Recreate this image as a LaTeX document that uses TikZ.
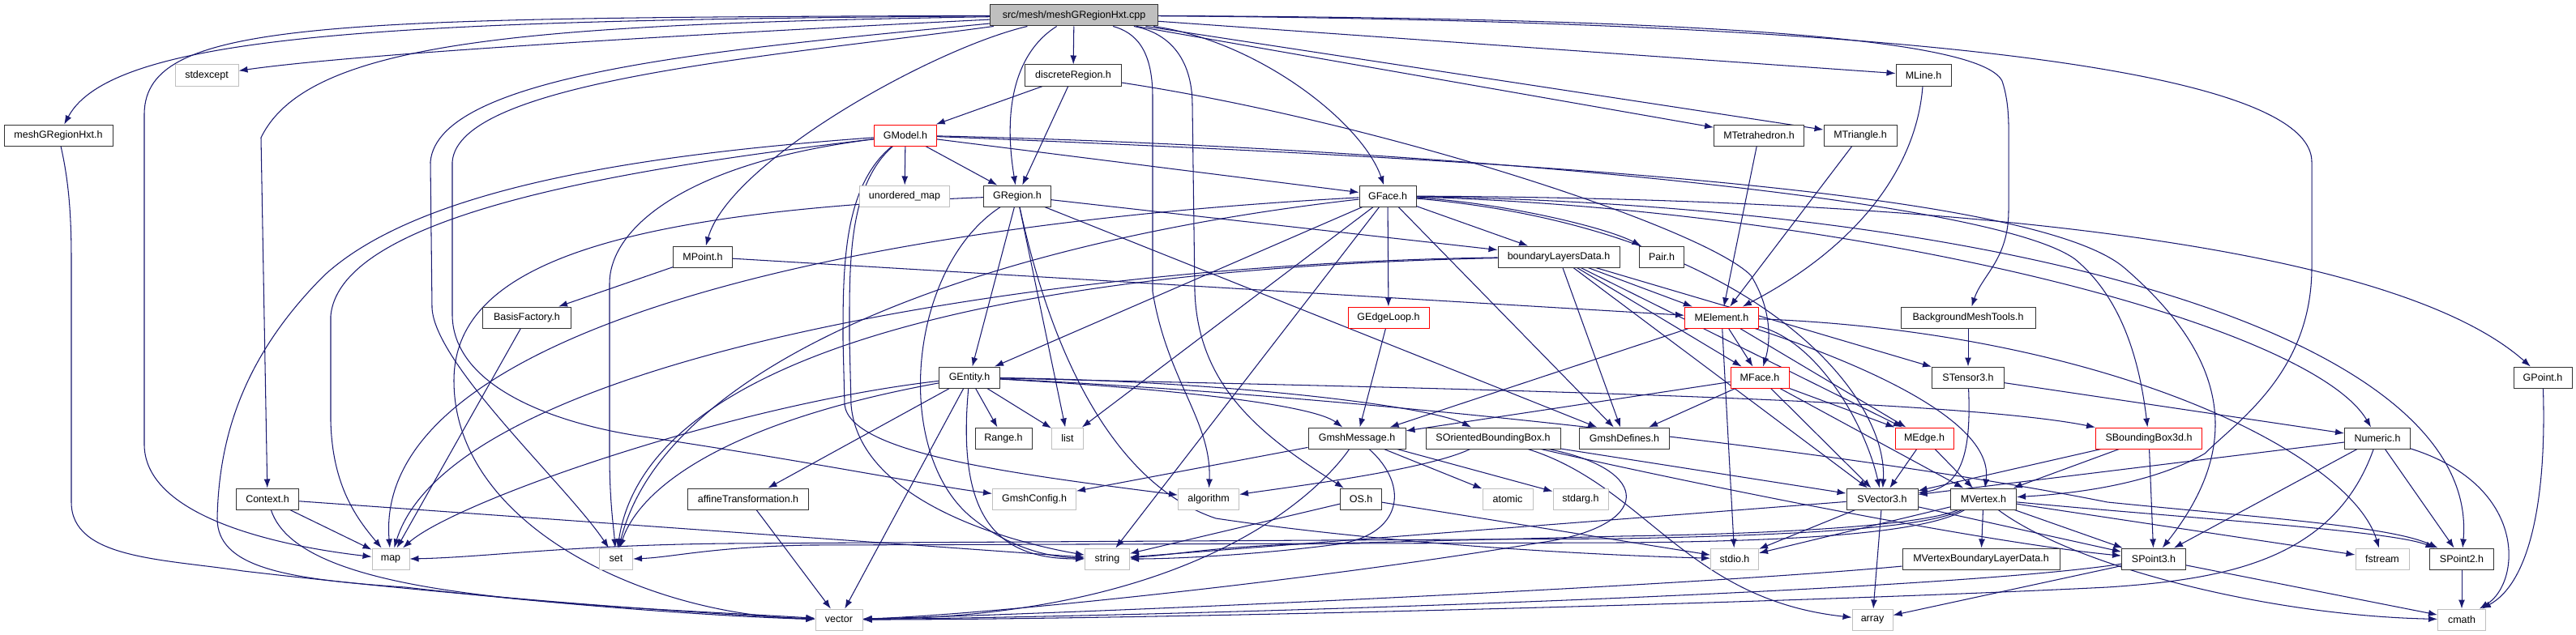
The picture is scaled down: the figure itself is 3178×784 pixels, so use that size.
\documentclass[tikz,border=0pt]{standalone}
\usepackage{fontspec}
\setmainfont{Liberation Sans}
\usetikzlibrary{arrows.meta}
\pgfdeclarelayer{back}
\pgfdeclarelayer{bg}
\pgfsetlayers{back,bg,main}
\definecolor{edgec}{HTML}{191970}
\definecolor{sysc}{HTML}{BFBFBF}
\definecolor{incc}{HTML}{FF0000}
\definecolor{rootc}{HTML}{BFBFBF}
\begin{document}
\begin{tikzpicture}[x=1pt,y=-1pt,
  nb/.style={draw=black!80, line width=1pt, fill=white, minimum height=26pt, inner sep=0pt, font=\fontsize{12.5}{14}\selectfont},
  sb/.style={nb, draw=sysc},
  rb/.style={nb, draw=incc},
  e/.style={draw=edgec, line width=1.05pt, -{Latex[length=11pt,width=8pt]}}]
\begin{pgfonlayer}{back}
\fill[white] (0,0) rectangle (3178,784);
\end{pgfonlayer}
\useasboundingbox (0,0) rectangle (3178,784);
% nodes
\node[nb, minimum width=207pt, fill=rootc] (root) at (1325,19) {src/mesh/meshGRegionHxt.cpp};
\node[sb, minimum width=78pt] (stdexcept) at (255,93) {stdexcept};
\node[nb, minimum width=119pt] (discreteregion) at (1324,93) {discreteRegion.h};
\node[nb, minimum width=68pt] (mline) at (2373,93) {MLine.h};
\node[nb, minimum width=134pt] (mgh) at (72,167) {meshGRegionHxt.h};
\node[rb, minimum width=77pt] (gmodel) at (1117,167) {GModel.h};
\node[nb, minimum width=111pt] (mtet) at (2170,167) {MTetrahedron.h};
\node[nb, minimum width=90pt] (mtri) at (2295,167) {MTriangle.h};
\node[sb, minimum width=111pt] (unordered) at (1116,242) {unordered\_map};
\node[nb, minimum width=83pt] (gregion) at (1255,242) {GRegion.h};
\node[nb, minimum width=70pt] (gface) at (1712,242) {GFace.h};
\node[nb, minimum width=73pt] (mpoint) at (867,317) {MPoint.h};
\node[nb, minimum width=150pt] (bld) at (1923,317) {boundaryLayersData.h};
\node[nb, minimum width=55pt] (pair) at (2050,317) {Pair.h};
\node[nb, minimum width=109pt] (basis) at (650,392) {BasisFactory.h};
\node[rb, minimum width=100pt] (gedgeloop) at (1713,392) {GEdgeLoop.h};
\node[rb, minimum width=91pt] (melement) at (2124,392) {MElement.h};
\node[nb, minimum width=166pt] (bgmt) at (2428,392) {BackgroundMeshTools.h};
\node[nb, minimum width=75pt] (gentity) at (1196,466) {GEntity.h};
\node[rb, minimum width=72pt] (mface) at (2171,466) {MFace.h};
\node[nb, minimum width=89pt] (stensor) at (2428,466) {STensor3.h};
\node[nb, minimum width=72pt] (gpoint) at (3137,466) {GPoint.h};
\node[nb, minimum width=70pt] (range) at (1238,541) {Range.h};
\node[sb, minimum width=39pt] (list) at (1317,541) {list};
\node[nb, minimum width=120pt] (gmshmessage) at (1674,541) {GmshMessage.h};
\node[nb, minimum width=166pt] (sobb) at (1842,541) {SOrientedBoundingBox.h};
\node[nb, minimum width=111pt] (gmshdefines) at (2004,541) {GmshDefines.h};
\node[rb, minimum width=72pt] (medge) at (2374,541) {MEdge.h};
\node[rb, minimum width=131pt] (sbbox) at (2651,541) {SBoundingBox3d.h};
\node[nb, minimum width=81pt] (numeric) at (2933,541) {Numeric.h};
\node[nb, minimum width=77pt] (context) at (330,616) {Context.h};
\node[nb, minimum width=149pt] (affine) at (923,616) {affineTransformation.h};
\node[sb, minimum width=103pt] (gmshconfig) at (1276,616) {GmshConfig.h};
\node[sb, minimum width=75pt] (algorithm) at (1491,616) {algorithm};
\node[nb, minimum width=51pt] (os) at (1679,616) {OS.h};
\node[sb, minimum width=62pt] (atomic) at (1860,616) {atomic};
\node[sb, minimum width=68pt] (stdarg) at (1950,616) {stdarg.h};
\node[nb, minimum width=88pt] (svector3) at (2322,616) {SVector3.h};
\node[nb, minimum width=81pt] (mvertex) at (2447,616) {MVertex.h};
\node[sb, minimum width=46pt] (map) at (482,690) {map};
\node[sb, minimum width=41pt] (set) at (760,690) {set};
\node[sb, minimum width=55pt] (string) at (1366,690) {string};
\node[sb, minimum width=59pt] (stdio) at (2140,690) {stdio.h};
\node[nb, minimum width=194pt] (mvbld) at (2444,690) {MVertexBoundaryLayerData.h};
\node[nb, minimum width=79pt] (spoint3) at (2657,690) {SPoint3.h};
\node[sb, minimum width=66pt] (fstream) at (2939,690) {fstream};
\node[nb, minimum width=79pt] (spoint2) at (3037,690) {SPoint2.h};
\node[sb, minimum width=58pt] (vector) at (1035,765) {vector};
\node[sb, minimum width=50pt] (array) at (2310,765) {array};
\node[sb, minimum width=59pt] (cmath) at (3037,765) {cmath};
% edges
\begin{pgfonlayer}{bg}
\foreach \a/\b in {root/discreteregion, root/mtet, root/mtri, root/mline,
 discreteregion/gmodel, discreteregion/gregion,
 gmodel/unordered, gmodel/gregion, gmodel/gface,
 gregion/gentity, gregion/list, gregion/bld, gregion/gmshdefines,
 gface/gentity, gface/gedgeloop, gface/bld, gface/list, gface/string, gface/gmshdefines,
 mpoint/melement, mpoint/basis, basis/map,
 mtet/melement, mtri/melement, bgmt/stensor,
 bld/melement, bld/mface, bld/medge, bld/svector3, bld/stensor, bld/gmshdefines,
 gedgeloop/gmshmessage,
 melement/mface, melement/medge, melement/gmshmessage, melement/stdio,
 gentity/range, gentity/list, gentity/vector, gentity/affine,
 mface/medge, mface/mvertex, mface/svector3, mface/gmshmessage, mface/gmshdefines,
 stensor/numeric,
 gmshmessage/gmshconfig, gmshmessage/atomic, gmshmessage/stdarg,
 sobb/svector3,
 medge/mvertex, medge/svector3,
 sbbox/spoint3, sbbox/svector3, sbbox/mvertex,
 numeric/svector3, numeric/spoint3, numeric/spoint2,
 context/map, context/string,
 affine/vector, os/string, os/stdio,
 svector3/spoint3, svector3/array, svector3/stdio, svector3/string,
 mvertex/mvbld, mvertex/spoint3, mvertex/fstream, mvertex/stdio,
 spoint3/cmath, spoint3/array, spoint2/cmath}
 \draw[e] (\a) -- (\b);
% root
\draw[e] (root) .. controls (500,25) and (140,40) .. (mgh);
\draw[e] (root) .. controls (900,40) and (450,65) .. (stdexcept);
\draw[e] (root) .. controls (400,22) and (180,25) .. (178,140) -- (178,550) .. controls (180,640) and (350,675) .. (map);
\draw[e] (root) .. controls (650,30) and (380,50) .. (322,170) -- (context);
\draw[e] (root) .. controls (900,60) and (540,90) .. (531,200) -- (533,380) .. controls (536,450) and (700,600) .. (set);
\draw[e] (root) .. controls (950,70) and (565,100) .. (558,200) -- (558,390) .. controls (560,480) and (690,525) .. (800,540) .. controls (1000,570) and (1150,600) .. (gmshconfig);
\draw[e] (root) .. controls (1150,60) and (900,200) .. (mpoint);
\draw[e] (root) .. controls (1260,60) and (1235,120) .. (gregion);
\draw[e] (root) .. controls (1400,40) and (1422,60) .. (1422,120) -- (1422,360) .. controls (1440,470) and (1495,520) .. (algorithm);
\draw[e] (root) .. controls (1440,40) and (1471,70) .. (1471,130) -- (1474,360) .. controls (1478,480) and (1560,540) .. (os);
\draw[e] (root) .. controls (1550,50) and (1680,150) .. (gface);
\draw[e] (root) .. controls (2000,22) and (2440,40) .. (2470,100) .. controls (2480,130) and (2478,160) .. (2478,200) -- (2478,260) .. controls (2478,320) and (2445,340) .. (bgmt);
\draw[e] (root) .. controls (2200,25) and (2852,70) .. (2852,200) -- (2852,330) .. controls (2852,460) and (2760,520) .. (2720,560) .. controls (2650,600) and (2550,610) .. (mvertex);
% others
\draw[e] (mgh) .. controls (84,220) and (88,260) .. (88,320) -- (88,620) .. controls (88,690) and (200,690) .. (300,705) .. controls (600,740) and (900,760) .. (vector);
\draw[e] (discreteregion) .. controls (1700,150) and (2100,280) .. (2160,340) .. controls (2185,380) and (2185,420) .. (mface);
\draw[e] (mline) .. controls (2365,200) and (2300,300) .. (melement);
\draw[e] (gmodel) .. controls (1700,180) and (2450,240) .. (2560,320) .. controls (2620,370) and (2640,450) .. (sbbox);
\draw[e] (gmodel) .. controls (1800,195) and (2500,230) .. (2620,330) .. controls (2760,450) and (2760,560) .. (spoint3);
\draw[e] (gmodel) .. controls (800,190) and (520,230) .. (400,340) .. controls (300,440) and (270,540) .. (268,640) .. controls (268,700) and (350,715) .. (500,725) .. controls (700,748) and (900,762) .. (vector);
\draw[e] (gmodel) .. controls (800,205) and (420,260) .. (408,390) -- (408,520) .. controls (410,600) and (440,640) .. (map);
\draw[e] (gmodel) .. controls (850,200) and (752,280) .. (752,350) -- (752,560) .. controls (752,620) and (757,650) .. (set);
\draw[e] (gmodel) .. controls (1040,230) and (1040,330) .. (1040,420) -- (1042,500) .. controls (1050,560) and (1250,585) .. (algorithm);
\draw[e] (gmodel) .. controls (1045,230) and (1048,330) .. (1048,420) -- (1050,500) .. controls (1060,620) and (1250,670) .. (string);
\draw[e] (gregion) .. controls (1120,330) and (1100,560) .. (1200,640) .. controls (1250,680) and (1300,688) .. (string);
\draw[e] (gregion) .. controls (1300,450) and (1380,600) .. (1500,640) .. controls (1700,670) and (1950,685) .. (stdio);
\draw[e] (gregion) .. controls (750,262) and (560,330) .. (560,470) .. controls (560,650) and (800,760) .. (vector);
\draw[e] (gface) .. controls (1850,250) and (1980,280) .. (pair);
\draw[e] (gface) .. controls (2400,245) and (2950,300) .. (gpoint);
\draw[e] (gface) .. controls (2300,260) and (2850,400) .. (numeric);
\draw[e] (gface) .. controls (2500,255) and (3060,420) .. (spoint2);
\draw[e] (gface) .. controls (2150,280) and (2330,480) .. (svector3);
\draw[e] (gface) .. controls (1000,280) and (460,420) .. (map);
\draw[e] (gface) .. controls (1200,300) and (820,450) .. (set);
\draw[e] (bld) .. controls (1300,330) and (800,420) .. (set);
\draw[e] (bld) .. controls (1300,325) and (560,440) .. (map);
\draw[e] (gentity) .. controls (1180,640) and (1230,690) .. (string);
\draw[e] (gentity) .. controls (1500,470) and (1760,500) .. (sobb);
\draw[e] (gentity) .. controls (1450,480) and (1620,500) .. (gmshmessage);
\draw[e] (gentity) .. controls (900,520) and (790,600) .. (set);
\draw[e] (gentity) .. controls (900,500) and (560,620) .. (map);
\draw[e] (gentity) .. controls (1700,478) and (2400,490) .. (sbbox);
\draw[e] (gentity) .. controls (1700,490) and (2300,560) .. (2600,620) .. controls (2800,640) and (2950,650) .. (spoint2);
\draw[e] (melement) .. controls (2600,410) and (2900,560) .. (fstream);
\draw[e] (melement) .. controls (2240,420) and (2300,520) .. (svector3);
\draw[e] (melement) .. controls (2300,450) and (2460,520) .. (mvertex);
\draw[e] (stensor) .. controls (2432,560) and (2420,600) .. (svector3);
\draw[e] (gmshmessage) .. controls (1740,600) and (1730,660) .. (1650,672) .. controls (1550,685) and (1450,690) .. (string);
\draw[e] (gmshmessage) .. controls (1640,590) and (1500,760) .. (vector);
\draw[e] (sobb) .. controls (1760,580) and (1600,600) .. (algorithm);
\draw[e] (sobb) .. controls (2030,600) and (2080,740) .. (array);
\draw[e] (sobb) .. controls (2040,580) and (2040,650) .. (1900,670) .. controls (1600,720) and (1200,760) .. (vector);
\draw[e] (sobb) .. controls (2100,600) and (2450,670) .. (spoint3);
\draw[e] (numeric) .. controls (2880,690) and (2750,715) .. (2600,725) .. controls (2200,745) and (1400,765) .. (vector);
\draw[e] (numeric) .. controls (3120,600) and (3110,720) .. (cmath);
\draw[e] (gpoint) .. controls (3142,620) and (3120,720) .. (cmath);
\draw[e] (spoint3) .. controls (2400,730) and (1500,760) .. (vector);
\draw[e] (mvbld) .. controls (2100,722) and (1400,755) .. (vector);
\draw[e] (context) .. controls (370,740) and (700,745) .. (vector);
\draw[e] (mvertex) .. controls (2560,700) and (2800,760) .. (cmath);
\draw[e] (mvertex) .. controls (2380,650) and (2250,660) .. (2000,665) -- (900,671) .. controls (700,673) and (600,688) .. (map.east);
\draw[e] (mvertex) .. controls (2380,655) and (2250,668) .. (2000,670) -- (1000,673) .. controls (880,675) and (830,688) .. (set.east);
\draw[e] (mvertex) .. controls (2380,645) and (2250,658) .. (2000,662) -- (1600,672) .. controls (1500,675) and (1450,685) .. (string);
\draw[e] (mvertex) .. controls (2700,640) and (2950,655) .. (spoint2);
\end{pgfonlayer}
\end{tikzpicture}
\end{document}
